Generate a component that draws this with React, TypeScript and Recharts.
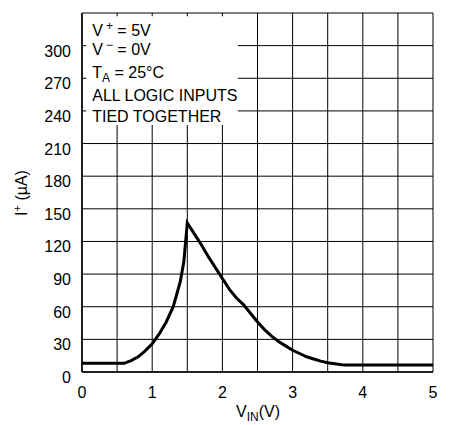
import React from "react";
import {
  LineChart,
  Line,
  XAxis,
  YAxis,
  CartesianGrid,
  ReferenceArea,
} from "recharts";

// supply current vs input voltage
const vIn = [
  0, 0.5, 0.6, 0.7, 0.8, 0.9, 1.0, 1.1, 1.2, 1.3, 1.4, 1.45, 1.5, 1.6, 1.7,
  1.8, 1.9, 2.0, 2.1, 2.2, 2.3, 2.4, 2.5, 2.6, 2.7, 2.8, 2.9, 3.0, 3.1, 3.2,
  3.3, 3.4, 3.5, 3.6, 3.7, 3.75, 4.0, 5.0,
];
const iPlus = [
  8, 8, 8, 10.5, 14, 19.5, 26, 35, 46, 60, 83, 101, 137, 127, 117, 106, 96,
  86, 76, 68, 62, 54, 46, 39, 33, 28, 24, 20, 17, 14, 12, 10, 8.5, 7.5, 6.6,
  6.5, 6.5, 6.5,
];

const xTicks = [0, 0.5, 1, 1.5, 2, 2.5, 3, 3.5, 4, 4.5, 5];
const yTicks = [0, 30, 60, 90, 120, 150, 180, 210, 240, 270, 300, 330];

const data = vIn.map((v, i) => ({ v, i: iPlus[i] }));

const FONT = "'Liberation Sans', Arial, sans-serif";

const XTick = ({ x, y, payload }: any) => {
  if (!Number.isInteger(payload.value)) return null;
  return (
    <text x={x} y={y + 26} textAnchor="middle" fontSize={16} fill="#000" fontFamily={FONT}>
      {payload.value}
    </text>
  );
};

const YTick = ({ x, y, payload }: any) => {
  if (payload.value > 300) return null;
  return (
    <text x={x - 11} y={y + 11} textAnchor="end" fontSize={16} fill="#000" fontFamily={FONT}>
      {payload.value}
    </text>
  );
};

const YLabel = () => (
  <text
    x={19}
    y={185}
    transform="rotate(-90 19 185)"
    textAnchor="middle"
    fontSize={16}
    fill="#000"
    fontFamily={FONT}
  >
    I
    <tspan dy={-6} fontSize={11}>+</tspan>
    <tspan dy={6}> (µA)</tspan>
  </text>
);

const XLabel = () => (
  <text x={250} y={409} textAnchor="middle" fontSize={16} fill="#000" fontFamily={FONT}>
    V
    <tspan dy={4} fontSize={12}>IN</tspan>
    <tspan dy={-4}>(V)</tspan>
  </text>
);

const Conditions = ({ viewBox }: any) => {
  const x = viewBox.x + 6;
  const top = viewBox.y;
  return (
    <text fontSize={16} fill="#000" fontFamily={FONT}>
      <tspan x={x} y={top + 19.5}>V</tspan>
      <tspan dx={3} dy={-6} fontSize={12}>+</tspan>
      <tspan dy={6}> = 5V</tspan>
      <tspan x={x} y={top + 39}>V</tspan>
      <tspan dx={3} dy={-6} fontSize={12}>−</tspan>
      <tspan dy={6}> = 0V</tspan>
      <tspan x={x} y={top + 62}>T</tspan>
      <tspan dy={4} fontSize={12}>A</tspan>
      <tspan dy={-4}> = 25°C</tspan>
      <tspan x={x} y={top + 84.5}>ALL LOGIC INPUTS</tspan>
      <tspan x={x} y={top + 106}>TIED TOGETHER</tspan>
    </text>
  );
};

export default function App() {
  return (
    <LineChart
      width={445}
      height={417}
      data={data}
      margin={{ top: 5, right: 20, left: 0, bottom: 0 }}
      style={{ fontFamily: FONT }}
    >
      <CartesianGrid stroke="#000" strokeWidth={1} />
      <XAxis
        dataKey="v"
        type="number"
        domain={[0, 5]}
        ticks={xTicks}
        interval={0}
        height={53}
        tickSize={0}
        tickMargin={0}
        tickLine={false}
        axisLine={{ stroke: "#000", strokeWidth: 1.5 }}
        tick={<XTick />}
        label={<XLabel />}
      />
      <YAxis
        type="number"
        domain={[0, 330]}
        ticks={yTicks}
        interval={0}
        width={74}
        tickSize={0}
        tickMargin={0}
        tickLine={false}
        axisLine={{ stroke: "#000", strokeWidth: 1.5 }}
        tick={<YTick />}
        label={<YLabel />}
      />
      <ReferenceArea
        x1={0.06}
        x2={2.22}
        y1={227}
        y2={327}
        fill="#fff"
        fillOpacity={1}
        stroke="none"
        ifOverflow="visible"
        label={<Conditions />}
      />
      <Line
        type="linear"
        dataKey="i"
        stroke="#000"
        strokeWidth={3}
        dot={false}
        isAnimationActive={false}
      />
    </LineChart>
  );
}
